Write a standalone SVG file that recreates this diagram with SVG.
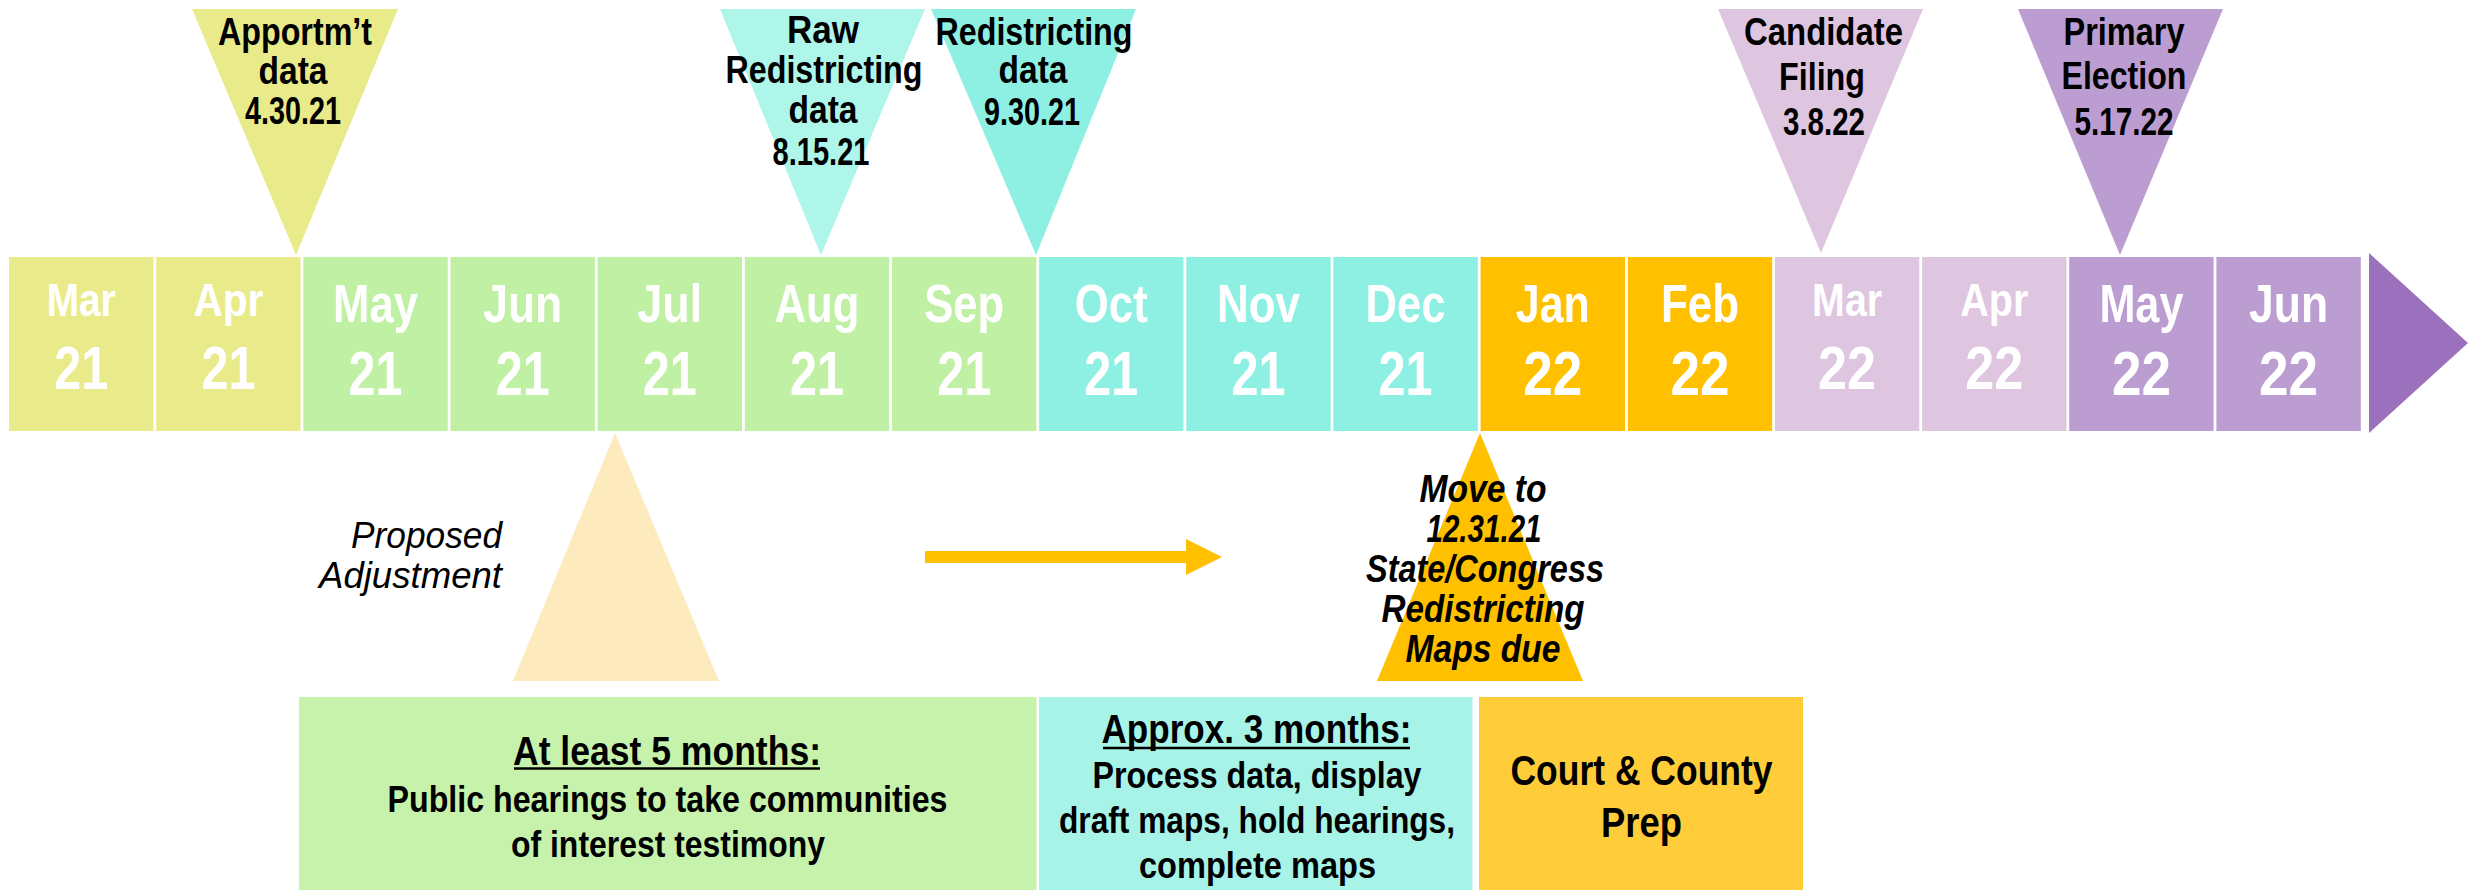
<svg xmlns="http://www.w3.org/2000/svg" width="2478" height="890" viewBox="0 0 2478 890">
<style>
text{font-family:'Liberation Sans Narrow','Liberation Sans',Arial,sans-serif;font-weight:bold;text-anchor:middle;lengthAdjust:spacingAndGlyphs}
.mw{fill:#ffffff}
.m1{font-size:54px}
.n1{font-size:63px}
.m2{font-size:46px}
.n2{font-size:62px}
.lab{font-size:38px;fill:#000}
.it{font-style:italic}
.body{font-size:36px;fill:#000}
.head{font-size:40px;fill:#000}
.c1{fill:#E9EB8B}
.c2{fill:#C0F0A4}
.c3{fill:#8EF0E2}
.c4{fill:#FFC000}
.c5{fill:#DEC5E0}
.c6{fill:#BB9DD1}
</style>
<rect x="0" y="0" width="2478" height="890" fill="#ffffff"/>

<!-- timeline months -->
<g id="timeline">
<g id="m-mar21"><rect class="c1" x="9" y="257" width="144.4" height="174"/><text class="mw m2" x="81.2" y="316" textLength="69" lengthAdjust="spacingAndGlyphs">Mar</text><text class="mw n2" x="81.2" y="389" textLength="54" lengthAdjust="spacingAndGlyphs">21</text></g>
<g id="m-apr21"><rect class="c1" x="156.2" y="257" width="144.4" height="174"/><text class="mw m2" x="228.4" y="316" textLength="70" lengthAdjust="spacingAndGlyphs">Apr</text><text class="mw n2" x="228.4" y="389" textLength="54" lengthAdjust="spacingAndGlyphs">21</text></g>
<g id="m-may21"><rect class="c2" x="303.3" y="257" width="144.4" height="174"/><text class="mw m1" x="375.5" y="322" textLength="85" lengthAdjust="spacingAndGlyphs">May</text><text class="mw n1" x="375.5" y="395" textLength="54" lengthAdjust="spacingAndGlyphs">21</text></g>
<g id="m-jun21"><rect class="c2" x="450.5" y="257" width="144.4" height="174"/><text class="mw m1" x="522.7" y="322" textLength="79" lengthAdjust="spacingAndGlyphs">Jun</text><text class="mw n1" x="522.7" y="395" textLength="54" lengthAdjust="spacingAndGlyphs">21</text></g>
<g id="m-jul21"><rect class="c2" x="597.6" y="257" width="144.4" height="174"/><text class="mw m1" x="669.8" y="322" textLength="65" lengthAdjust="spacingAndGlyphs">Jul</text><text class="mw n1" x="669.8" y="395" textLength="54" lengthAdjust="spacingAndGlyphs">21</text></g>
<g id="m-aug21"><rect class="c2" x="744.8" y="257" width="144.4" height="174"/><text class="mw m1" x="817" y="322" textLength="85" lengthAdjust="spacingAndGlyphs">Aug</text><text class="mw n1" x="817" y="395" textLength="54" lengthAdjust="spacingAndGlyphs">21</text></g>
<g id="m-sep21"><rect class="c2" x="892" y="257" width="144.4" height="174"/><text class="mw m1" x="964.2" y="322" textLength="80" lengthAdjust="spacingAndGlyphs">Sep</text><text class="mw n1" x="964.2" y="395" textLength="54" lengthAdjust="spacingAndGlyphs">21</text></g>
<g id="m-oct21"><rect class="c3" x="1039.1" y="257" width="144.4" height="174"/><text class="mw m1" x="1111.3" y="322" textLength="73" lengthAdjust="spacingAndGlyphs">Oct</text><text class="mw n1" x="1111.3" y="395" textLength="54" lengthAdjust="spacingAndGlyphs">21</text></g>
<g id="m-nov21"><rect class="c3" x="1186.3" y="257" width="144.4" height="174"/><text class="mw m1" x="1258.5" y="322" textLength="83" lengthAdjust="spacingAndGlyphs">Nov</text><text class="mw n1" x="1258.5" y="395" textLength="54" lengthAdjust="spacingAndGlyphs">21</text></g>
<g id="m-dec21"><rect class="c3" x="1333.4" y="257" width="144.4" height="174"/><text class="mw m1" x="1405.6" y="322" textLength="80" lengthAdjust="spacingAndGlyphs">Dec</text><text class="mw n1" x="1405.6" y="395" textLength="54" lengthAdjust="spacingAndGlyphs">21</text></g>
<g id="m-jan22"><rect class="c4" x="1480.6" y="257" width="144.4" height="174"/><text class="mw m1" x="1552.8" y="322" textLength="74" lengthAdjust="spacingAndGlyphs">Jan</text><text class="mw n1" x="1552.8" y="395" textLength="59" lengthAdjust="spacingAndGlyphs">22</text></g>
<g id="m-feb22"><rect class="c4" x="1627.8" y="257" width="144.4" height="174"/><text class="mw m1" x="1700" y="322" textLength="78" lengthAdjust="spacingAndGlyphs">Feb</text><text class="mw n1" x="1700" y="395" textLength="59" lengthAdjust="spacingAndGlyphs">22</text></g>
<g id="m-mar22"><rect class="c5" x="1774.9" y="257" width="144.4" height="174"/><text class="mw m2" x="1847.1" y="316" textLength="70" lengthAdjust="spacingAndGlyphs">Mar</text><text class="mw n2" x="1847.1" y="389" textLength="58" lengthAdjust="spacingAndGlyphs">22</text></g>
<g id="m-apr22"><rect class="c5" x="1922.1" y="257" width="144.4" height="174"/><text class="mw m2" x="1994.3" y="316" textLength="68" lengthAdjust="spacingAndGlyphs">Apr</text><text class="mw n2" x="1994.3" y="389" textLength="58" lengthAdjust="spacingAndGlyphs">22</text></g>
<g id="m-may22"><rect class="c6" x="2069.2" y="257" width="144.4" height="174"/><text class="mw m1" x="2141.4" y="322" textLength="84" lengthAdjust="spacingAndGlyphs">May</text><text class="mw n1" x="2141.4" y="395" textLength="59" lengthAdjust="spacingAndGlyphs">22</text></g>
<g id="m-jun22"><rect class="c6" x="2216.4" y="257" width="144.4" height="174"/><text class="mw m1" x="2288.6" y="322" textLength="79" lengthAdjust="spacingAndGlyphs">Jun</text><text class="mw n1" x="2288.6" y="395" textLength="59" lengthAdjust="spacingAndGlyphs">22</text></g>
<g id="timeline-arrow"><polygon points="2369,253 2468,343 2369,433" fill="#9B70BD"/></g>
</g>

<!-- top milestones -->
<g id="ms-apportionment">
<polygon points="192,9 398,9 296,255" fill="#E9EB8B"/>
<text class="lab" x="295" y="45" textLength="154" lengthAdjust="spacingAndGlyphs">Apportm’t</text>
<text class="lab" x="293" y="84" textLength="69" lengthAdjust="spacingAndGlyphs">data</text>
<text class="lab" x="293" y="124" textLength="96" lengthAdjust="spacingAndGlyphs">4.30.21</text>
</g>
<g id="ms-raw">
<polygon points="720,9 925,9 821,255" fill="#AEF5EA"/>
<text class="lab" x="823" y="43" textLength="72" lengthAdjust="spacingAndGlyphs">Raw</text>
<text class="lab" x="824" y="83" textLength="197" lengthAdjust="spacingAndGlyphs">Redistricting</text>
<text class="lab" x="823" y="123" textLength="69" lengthAdjust="spacingAndGlyphs">data</text>
<text class="lab" x="821" y="165" textLength="97" lengthAdjust="spacingAndGlyphs">8.15.21</text>
</g>
<g id="ms-redistricting">
<polygon points="931,9 1136,9 1036,255" fill="#8EF0E2"/>
<text class="lab" x="1034" y="45" textLength="197" lengthAdjust="spacingAndGlyphs">Redistricting</text>
<text class="lab" x="1033" y="83" textLength="69" lengthAdjust="spacingAndGlyphs">data</text>
<text class="lab" x="1032" y="125" textLength="96" lengthAdjust="spacingAndGlyphs">9.30.21</text>
</g>
<g id="ms-candidate">
<polygon points="1718,9 1923,9 1821,253" fill="#DEC5E0"/>
<text class="lab" x="1823.5" y="45" textLength="159" lengthAdjust="spacingAndGlyphs">Candidate</text>
<text class="lab" x="1822" y="90" textLength="86" lengthAdjust="spacingAndGlyphs">Filing</text>
<text class="lab" x="1824" y="135" textLength="82" lengthAdjust="spacingAndGlyphs">3.8.22</text>
</g>
<g id="ms-primary">
<polygon points="2018,9 2223,9 2120,255" fill="#BB9DD1"/>
<text class="lab" x="2124" y="45" textLength="121" lengthAdjust="spacingAndGlyphs">Primary</text>
<text class="lab" x="2124" y="89" textLength="125" lengthAdjust="spacingAndGlyphs">Election</text>
<text class="lab" x="2124" y="135" textLength="99" lengthAdjust="spacingAndGlyphs">5.17.22</text>
</g>

<!-- proposed adjustment -->
<g id="proposed-adjustment">
<polygon points="615,433 719,681 513,681" fill="#FDEBBE"/>
<text x="502" y="548" style="font-size:37px;font-weight:normal;font-style:italic;text-anchor:end;fill:#000" textLength="151" lengthAdjust="spacingAndGlyphs">Proposed</text>
<text x="502" y="588" style="font-size:37px;font-weight:normal;font-style:italic;text-anchor:end;fill:#000" textLength="183" lengthAdjust="spacingAndGlyphs">Adjustment</text>
</g>

<g id="move-deadline">
<polygon points="1480,433 1583,681 1377,681" fill="#FFC000"/>
<text class="lab it" x="1483" y="502" textLength="127" lengthAdjust="spacingAndGlyphs">Move to</text>
<text class="lab it" x="1484" y="542" textLength="115" lengthAdjust="spacingAndGlyphs">12.31.21</text>
<text class="lab it" x="1485" y="582" textLength="238" lengthAdjust="spacingAndGlyphs">State/Congress</text>
<text class="lab it" x="1483" y="622" textLength="203" lengthAdjust="spacingAndGlyphs">Redistricting</text>
<text class="lab it" x="1483" y="662" textLength="155" lengthAdjust="spacingAndGlyphs">Maps due</text>
</g>

<!-- connectors -->
<g id="connectors">
<rect x="925" y="551" width="261" height="12" fill="#FFC000"/>
<polygon points="1186,539 1222,557 1186,575" fill="#FFC000"/>
</g>

<!-- bottom phase boxes -->
<g id="phase-hearings">
<rect x="299" y="697" width="737.5" height="193" fill="#C6F2AC"/>
<text class="head" x="667" y="765" textLength="308" lengthAdjust="spacingAndGlyphs">At least 5 months:</text>
<line x1="514" y1="768.5" x2="820" y2="768.5" stroke="#000" stroke-width="2.5"/>
<text class="body" x="667.5" y="812" textLength="560" lengthAdjust="spacingAndGlyphs">Public hearings to take communities</text>
<text class="body" x="668" y="857" textLength="314" lengthAdjust="spacingAndGlyphs">of interest testimony</text>
</g>
<g id="phase-maps">
<rect x="1039" y="697" width="433.5" height="193" fill="#A8F3E8"/>
<text class="head" x="1256.5" y="743" textLength="310" lengthAdjust="spacingAndGlyphs">Approx. 3 months:</text>
<line x1="1103" y1="748" x2="1410" y2="748" stroke="#000" stroke-width="2.5"/>
<text class="body" x="1257" y="788" textLength="329" lengthAdjust="spacingAndGlyphs">Process data, display</text>
<text class="body" x="1257" y="833" textLength="396" lengthAdjust="spacingAndGlyphs">draft maps, hold hearings,</text>
<text class="body" x="1257.5" y="878" textLength="237" lengthAdjust="spacingAndGlyphs">complete maps</text>
</g>
<g id="phase-court">
<rect x="1479" y="697" width="324" height="193" fill="#FFCD3A"/>
<text x="1641.5" y="785" style="font-size:42px;fill:#000" textLength="262" lengthAdjust="spacingAndGlyphs">Court &amp; County</text>
<text x="1641.5" y="837" style="font-size:42px;fill:#000" textLength="81" lengthAdjust="spacingAndGlyphs">Prep</text>
</g>
</svg>
